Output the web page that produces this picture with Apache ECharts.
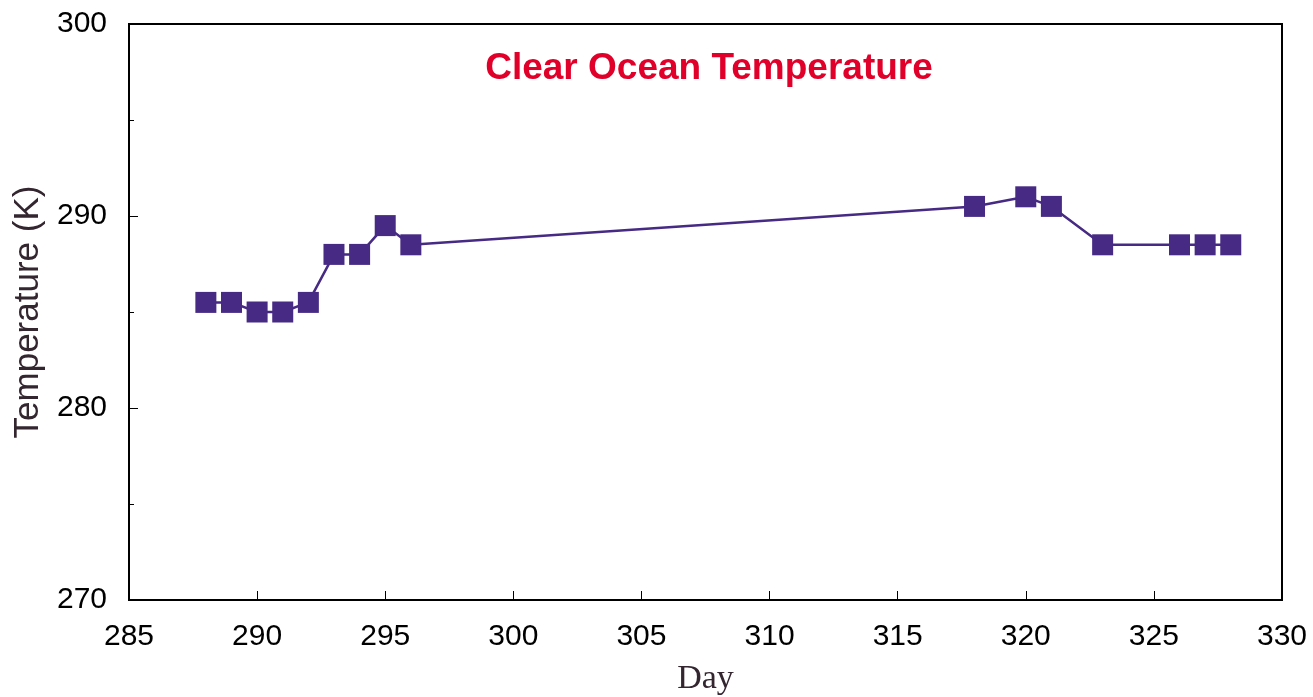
<!DOCTYPE html>
<html>
<head>
<meta charset="utf-8">
<script src="https://cdn.jsdelivr.net/npm/echarts@6/dist/echarts.min.js"></script>
<style>html,body{margin:0;padding:0;background:#fff}#c{width:1313px;height:697px}</style>
</head>
<body>
<div id="c"></div>
<script>
const days = [288, 289, 290, 291, 292, 293, 294, 295, 296, 318, 320, 321, 323, 326, 327, 328];
const temps = [285.5, 285.5, 285.0, 285.0, 285.5, 288.0, 288.0, 289.5, 288.5, 290.5, 291.0, 290.5, 288.5, 288.5, 288.5, 288.5];
const titleText = 'Clear Ocean Temperature';
const xName = 'Day';
const yName = 'Temperature (K)';

const chart = echarts.init(document.getElementById('c'));
chart.setOption({
  animation: false,
  backgroundColor: '#fff',
  title: {
    text: titleText, left: 704, top: 45, textAlign: 'center',
    textStyle: { color: '#e0002a', fontFamily: 'Liberation Sans, Arial, sans-serif', fontWeight: 'bold', fontSize: 37 }
  },
  grid: { left: 129, right: 31, top: 24, bottom: 97, outerBoundsMode: 'none', containLabel: false, show: true, borderColor: '#000', borderWidth: 2, backgroundColor: 'transparent' },
  xAxis: {
    type: 'value', min: 285, max: 330, interval: 5,
    name: xName, nameLocation: 'middle', nameGap: 62,
    nameTextStyle: { fontFamily: 'Liberation Serif, Times New Roman, serif', fontSize: 34, color: '#33262f' },
    axisLine: { show: true, lineStyle: { color: '#000', width: 2 } },
    axisTick: { show: true, inside: true, length: 9, lineStyle: { color: '#000', width: 1 } },
    axisLabel: { margin: 22, fontFamily: 'Liberation Sans, Arial, sans-serif', fontSize: 30, color: '#000' },
    splitLine: { show: false }
  },
  yAxis: {
    type: 'value', min: 270, max: 300, interval: 10,
    name: yName, nameLocation: 'middle', nameGap: 80,
    nameTextStyle: { fontFamily: 'Liberation Sans, Arial, sans-serif', fontSize: 35, color: '#33262f' },
    axisLine: { show: true, lineStyle: { color: '#000', width: 2 } },
    axisTick: { show: true, inside: true, length: 9, lineStyle: { color: '#000', width: 1 } },
    minorTick: { show: true, splitNumber: 2, length: 5, lineStyle: { color: '#000', width: 1 } },
    axisLabel: { margin: 22, fontFamily: 'Liberation Sans, Arial, sans-serif', fontSize: 30, color: '#000' },
    splitLine: { show: false }
  },
  series: [{
    type: 'line',
    data: days.map((d, i) => [d, temps[i]]),
    symbol: 'rect', symbolSize: 21,
    itemStyle: { color: '#472a84' },
    lineStyle: { color: '#472a84', width: 2.5 }
  }]
});
</script>
</body>
</html>
